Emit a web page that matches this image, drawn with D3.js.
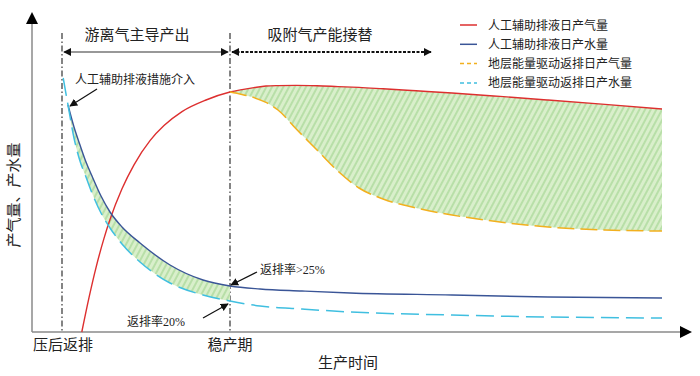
<!DOCTYPE html>
<html>
<head>
<meta charset="utf-8">
<script src="https://cdn.jsdelivr.net/npm/d3@7"></script>
<style>
body { margin: 0; background: #fff; }
text { font-family: "Liberation Serif", "Noto Sans CJK SC", serif; fill: #222; }
</style>
</head>
<body>
<div id="chart"></div>
<script>
// water curves (time in arbitrary units, rate in arbitrary units)
waterTime = [5.2, 6, 7, 8, 9, 10, 11.5, 13, 15, 18, 23, 28.5, 33, 38, 45, 53, 70, 86, 105];
waterAssisted = [null, 56.75, 51.25, 46.75, 42.5, 39, 34, 30, 26.25, 22.25, 16.75, 13, 11.5, 10.75, 10.25, 9.75, 9.25, 8.75, 8.5];
waterNatural = [63.5, 56.75, 48.5, 42.75, 38.75, 34.75, 29.75, 26, 22, 17.5, 12.25, 9.25, 7.75, 6.5, 5.75, 5, 4.25, 3.75, 3.5];

// gas curves
gasTime = [8.3, 9.5, 10.7, 12, 13, 15, 17, 19.7, 22, 25, 29, 33, 35, 37, 39, 41, 44, 47.5, 51, 54.5, 58.5, 64, 70, 78, 86, 95.5, 105];
gasAssisted = [0, 8.6, 16.3, 23.4, 28.1, 35.8, 41.8, 47.9, 51.6, 55.1, 58, 60, 60.6, 61.1, 61.5, 61.6, 61.65, 61.55, 61.35, 61.15, 60.8, 60.3, 59.75, 58.9, 58, 56.9, 55.75];
gasNatural = [null, null, null, null, null, null, null, null, null, null, null, 60, 59.4, 58.6, 57.4, 55.5, 50.8, 45.5, 40.2, 36, 33.25, 31, 29.25, 27.5, 26.25, 25.5, 25.25];

// phase boundaries and labels
phaseTimes = [5, 33];
phaseLabels = ['游离气主导产出', '吸附气产能接替'];
xLabels = ['压后返排', '稳产期'];

legendLabels = ['人工辅助排液日产气量', '人工辅助排液日产水量', '地层能量驱动返排日产气量', '地层能量驱动返排日产水量'];
legendColors = ['#dd2f2f', '#3a5597', '#f2b01e', '#40bfe0'];
legendDash = [null, null, '4,3', '4,3'];

// chart settings
chart_width = 700;
chart_height = 376;

var x = d3.scaleLinear().domain([0, 110]).range([32, 692]);
var y = d3.scaleLinear().domain([0, 80]).range([332, 12]);

var svg = d3.select('#chart')
	.append('svg')
	.attr('width', chart_width)
	.attr('height', chart_height);

var defs = svg.append('defs');

// hatch pattern
var pat = defs.append('pattern')
	.attr('id', 'hatch')
	.attr('patternUnits', 'userSpaceOnUse')
	.attr('width', 5)
	.attr('height', 5)
	.attr('patternTransform', 'rotate(28)');
pat.append('rect').attr('width', 5).attr('height', 5).attr('fill', '#d9efcb');
pat.append('line').attr('x1', 1).attr('y1', 0).attr('x2', 1).attr('y2', 5)
	.attr('stroke', '#a6d795').attr('stroke-width', 1.3);

defs.append('marker')
	.attr('id', 'arr')
	.attr('viewBox', '0 0 10 10')
	.attr('refX', 9).attr('refY', 5)
	.attr('markerWidth', 8).attr('markerHeight', 8)
	.attr('markerUnits', 'userSpaceOnUse')
	.attr('orient', 'auto-start-reverse')
	.append('path').attr('d', 'M0,0L10,5L0,10z').attr('fill', '#111');

// axes
svg.append('line')
	.attr('x1', x(0)).attr('y1', y(0)).attr('x2', x(108)).attr('y2', y(0))
	.attr('stroke', '#8a8a8a').attr('stroke-width', 1.5);
svg.append('path')
	.attr('d', `M${x(110)},${y(0)}L${x(108)},${y(0) - 6}L${x(108)},${y(0) + 6}Z`)
	.attr('fill', '#000');
svg.append('line')
	.attr('x1', x(0)).attr('y1', y(0)).attr('x2', x(0)).attr('y2', y(77))
	.attr('stroke', '#8a8a8a').attr('stroke-width', 1.5);
svg.append('path')
	.attr('d', `M${x(0)},${y(80)}L${x(0) - 6},${y(77)}L${x(0) + 6},${y(77)}Z`)
	.attr('fill', '#000');

// phase boundaries
svg.selectAll('.phase')
	.data(phaseTimes)
	.enter()
	.append('line')
	.attr('x1', (d) => x(d)).attr('x2', (d) => x(d))
	.attr('y1', 33).attr('y2', y(0))
	.attr('stroke', '#333').attr('stroke-width', 1.2)
	.attr('stroke-dasharray', '6,2.5,1.5,2.5');

// phase arrows
svg.append('line')
	.attr('x1', x(phaseTimes[0]) + 2).attr('x2', x(phaseTimes[1]) - 2)
	.attr('y1', 52).attr('y2', 52)
	.attr('stroke', '#333').attr('stroke-width', 1.2)
	.attr('marker-start', 'url(#arr)').attr('marker-end', 'url(#arr)');
svg.append('line')
	.attr('x1', x(phaseTimes[1]) + 2).attr('x2', 431)
	.attr('y1', 52).attr('y2', 52)
	.attr('stroke', '#111').attr('stroke-width', 2)
	.attr('stroke-dasharray', '3,1.5')
	.attr('marker-start', 'url(#arr)').attr('marker-end', 'url(#arr)');

svg.append('text').attr('x', 137).attr('y', 40).attr('text-anchor', 'middle')
	.attr('font-size', 15).text(phaseLabels[0]);
svg.append('text').attr('x', 320).attr('y', 40).attr('text-anchor', 'middle')
	.attr('font-size', 15).text(phaseLabels[1]);

// fills
var water = waterTime.map((t, i) => ({t: t, a: waterAssisted[i], n: waterNatural[i]}));
var gas = gasTime.map((t, i) => ({t: t, a: gasAssisted[i], n: gasNatural[i]}));

var area = d3.area()
	.defined((d) => d.a != null && d.n != null)
	.x((d) => x(d.t))
	.y0((d) => y(d.n))
	.y1((d) => y(d.a))
	.curve(d3.curveMonotoneX);

svg.append('path')
	.attr('d', area(water.filter((d) => d.t <= phaseTimes[1])))
	.attr('fill', 'url(#hatch)');
svg.append('path')
	.attr('d', area(gas))
	.attr('fill', 'url(#hatch)');

// curves
function line(key) {
	return d3.line()
		.defined((d) => d[key] != null)
		.x((d) => x(d.t))
		.y((d) => y(d[key]))
		.curve(d3.curveMonotoneX);
}

svg.append('path').attr('d', line('a')(gas))
	.attr('fill', 'none').attr('stroke', legendColors[0]).attr('stroke-width', 1.4);
svg.append('path').attr('d', line('a')(water))
	.attr('fill', 'none').attr('stroke', legendColors[1]).attr('stroke-width', 1.4);
svg.append('path').attr('d', line('n')(gas))
	.attr('fill', 'none').attr('stroke', legendColors[2]).attr('stroke-width', 1.5)
	.attr('stroke-dasharray', '17,6');
svg.append('path').attr('d', line('n')(water))
	.attr('fill', 'none').attr('stroke', legendColors[3]).attr('stroke-width', 1.5)
	.attr('stroke-dasharray', '18,7');

// annotations
var notes = [
	{text: '人工辅助排液措施介入', tx: 75, ty: 84, from: [97, 89], to: [70, 106]},
	{text: '返排率>25%', tx: 260, ty: 274, from: [257, 272], to: [231, 285]},
	{text: '返排率20%', tx: 127, ty: 326, from: [203, 318], to: [228, 304]}
];
notes.forEach((n) => {
	svg.append('text').attr('x', n.tx).attr('y', n.ty).attr('font-size', 12).text(n.text);
	svg.append('line')
		.attr('x1', n.from[0]).attr('y1', n.from[1]).attr('x2', n.to[0]).attr('y2', n.to[1])
		.attr('stroke', '#111').attr('stroke-width', 1.2)
		.attr('marker-end', 'url(#arr)');
});

// legend
var legend = svg.selectAll('.legend')
	.data(legendLabels)
	.enter()
	.append('g')
	.attr('transform', (d, i) => `translate(460, ${25 + i * 19.3})`);
legend.append('line')
	.attr('x1', 0).attr('x2', 17).attr('y1', 0).attr('y2', 0)
	.attr('stroke', (d, i) => legendColors[i]).attr('stroke-width', 1.5)
	.attr('stroke-dasharray', (d, i) => legendDash[i]);
legend.append('text')
	.attr('x', 28).attr('y', 4.5)
	.attr('font-size', 12)
	.text((d) => d);

// axis labels
svg.append('text').attr('x', 33).attr('y', 350).attr('font-size', 15).text(xLabels[0]);
svg.append('text').attr('x', x(phaseTimes[1])).attr('y', 350).attr('text-anchor', 'middle')
	.attr('font-size', 15).text(xLabels[1]);
svg.append('text').attr('x', 348).attr('y', 368).attr('text-anchor', 'middle')
	.attr('font-size', 15).text('生产时间');
svg.append('text')
	.attr('transform', 'translate(19, 195) rotate(-90)')
	.attr('text-anchor', 'middle')
	.attr('font-size', 15)
	.text('产气量、产水量');
</script>
</body>
</html>
